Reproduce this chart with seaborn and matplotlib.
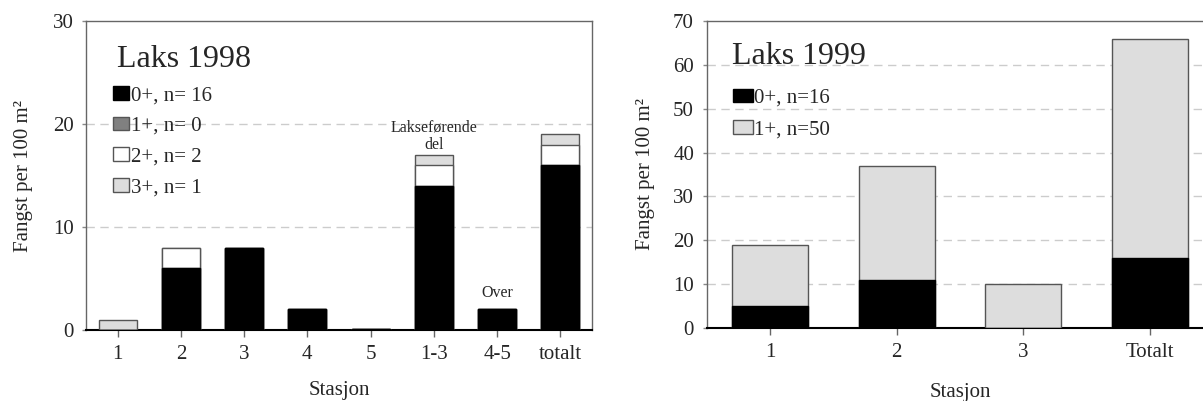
import matplotlib
matplotlib.use("Agg")
import matplotlib.pyplot as plt
import seaborn as sns
import numpy as np
import pandas as pd
from matplotlib.patches import Patch

# ---- data ----
st98 = ["1", "2", "3", "4", "5", "1-3", "4-5", "totalt"]
a0_98 = [0, 6, 8, 2, 0.1, 14, 2, 16]
a1_98 = [0, 0, 0, 0, 0, 0, 0, 0]
a2_98 = [0, 2, 0, 0, 0, 2, 0, 2]
a3_98 = [1, 0, 0, 0, 0, 1, 0, 1]
leg98 = ["0+, n= 16", "1+, n= 0", "2+, n= 2", "3+, n= 1"]

st99 = ["1", "2", "3", "Totalt"]
a0_99 = [5, 11, 0, 16]
a1_99 = [14, 26, 10, 50]
leg99 = ["0+, n=16", "1+, n=50"]

sns.set_theme(style="white")
plt.rcParams["font.family"] = ["Liberation Serif", "DejaVu Serif"]

C_BLACK = "#000000"
C_GRAY = "#808080"
C_WHITE = "#ffffff"
C_LIGHT = "#dddddd"
EDGE = "#555555"

fig = plt.figure(figsize=(12.03, 4.01), dpi=100)
ax1 = fig.add_axes([86 / 1203, (401 - 330) / 401, (592 - 86) / 1203, (330 - 21) / 401])
ax2 = fig.add_axes([706.5 / 1203, (401 - 328) / 401, 507 / 1203, (328 - 21) / 401])


def stacked(ax, cats, layers, colors):
    cum = np.cumsum(np.array(layers, dtype=float), axis=0)
    # draw from top layer down, so lower layers overlay
    for i in range(len(layers) - 1, -1, -1):
        df = pd.DataFrame({"Stasjon": cats, "v": cum[i]})
        ec = C_BLACK if colors[i] == C_BLACK else EDGE
        sns.barplot(data=df, x="Stasjon", y="v", order=cats, color=colors[i],
                    saturation=1, width=0.6, edgecolor=ec, linewidth=1.0,
                    ax=ax, zorder=3)


def style(ax, ymax, step):
    ax.set_ylim(0, ymax)
    ax.set_yticks(np.arange(0, ymax + 1, step))
    for y in np.arange(step, ymax, step):
        ax.axhline(y, color="#cccccc", lw=1.0, ls=(0, (6, 4)), zorder=1)
    for s in ["left", "top", "right"]:
        ax.spines[s].set_color("#666666")
        ax.spines[s].set_linewidth(1.0)
    ax.spines["bottom"].set_color("black")
    ax.spines["bottom"].set_linewidth(1.5)
    ax.tick_params(axis="x", bottom=True, length=5, width=1, color="#666666",
                   labelsize=15, pad=6)
    ax.tick_params(axis="y", left=True, length=3, width=1, color="#888888",
                   labelsize=15, pad=6)
    ax.set_xlabel("Stasjon", fontsize=15)
    ax.set_ylabel("Fangst per 100 m²", fontsize=15)


def legend(ax, handles, labels, x, yc, hl, spacing):
    ax.legend(handles, labels, loc="center left", bbox_to_anchor=(x, yc),
              frameon=False, fontsize=15, handlelength=hl, handleheight=0.65,
              handletextpad=0.05, labelspacing=spacing, borderaxespad=0,
              borderpad=0)


# ---- 1998 ----
stacked(ax1, st98, [a0_98, a1_98, a2_98, a3_98], [C_BLACK, C_GRAY, C_WHITE, C_LIGHT])
style(ax1, 30, 10)
ax1.set_xlim(-0.5, len(st98) - 0.5)
ax1.xaxis.set_label_coords(0.5, -0.165)
ax1.yaxis.set_label_coords(-0.104, 0.5)

idx13 = st98.index("1-3")
idx45 = st98.index("4-5")
tot13 = a0_98[idx13] + a1_98[idx13] + a2_98[idx13] + a3_98[idx13]
tot45 = a0_98[idx45] + a1_98[idx45] + a2_98[idx45] + a3_98[idx45]
ax1.annotate("Lakseførende\ndel", xy=(idx13, tot13), xytext=(0, 1.5),
             textcoords="offset points", ha="center", va="bottom", fontsize=11.5,
             linespacing=1.15)
ax1.annotate("Over", xy=(idx45, tot45), xytext=(0, 6),
             textcoords="offset points", ha="center", va="bottom", fontsize=11.5)

ax1.text(0.061, 0.877, "Laks 1998", transform=ax1.transAxes, fontsize=23,
         ha="left", va="center")
h98 = [Patch(facecolor=c, edgecolor=(C_BLACK if c == C_BLACK else EDGE), lw=1)
       for c in [C_BLACK, C_GRAY, C_WHITE, C_LIGHT]]
legend(ax1, h98, leg98, 0.053, 0.61, 0.8, 0.55)

# ---- 1999 ----
stacked(ax2, st99, [a0_99, a1_99], [C_BLACK, C_LIGHT])
style(ax2, 70, 10)
ax2.set_xlim(-0.5, len(st99) - 0.5)
ax2.xaxis.set_label_coords(0.5, -0.18)
ax2.yaxis.set_label_coords(-0.101, 0.5)

ax2.text(0.05, 0.885, "Laks 1999", transform=ax2.transAxes, fontsize=23,
         ha="left", va="center")
h99 = [Patch(facecolor=c, edgecolor=(C_BLACK if c == C_BLACK else EDGE), lw=1)
       for c in [C_BLACK, C_LIGHT]]
legend(ax2, h99, leg99, 0.052, 0.697, 0.95, 0.6)

fig.savefig("out.png", dpi=100)
